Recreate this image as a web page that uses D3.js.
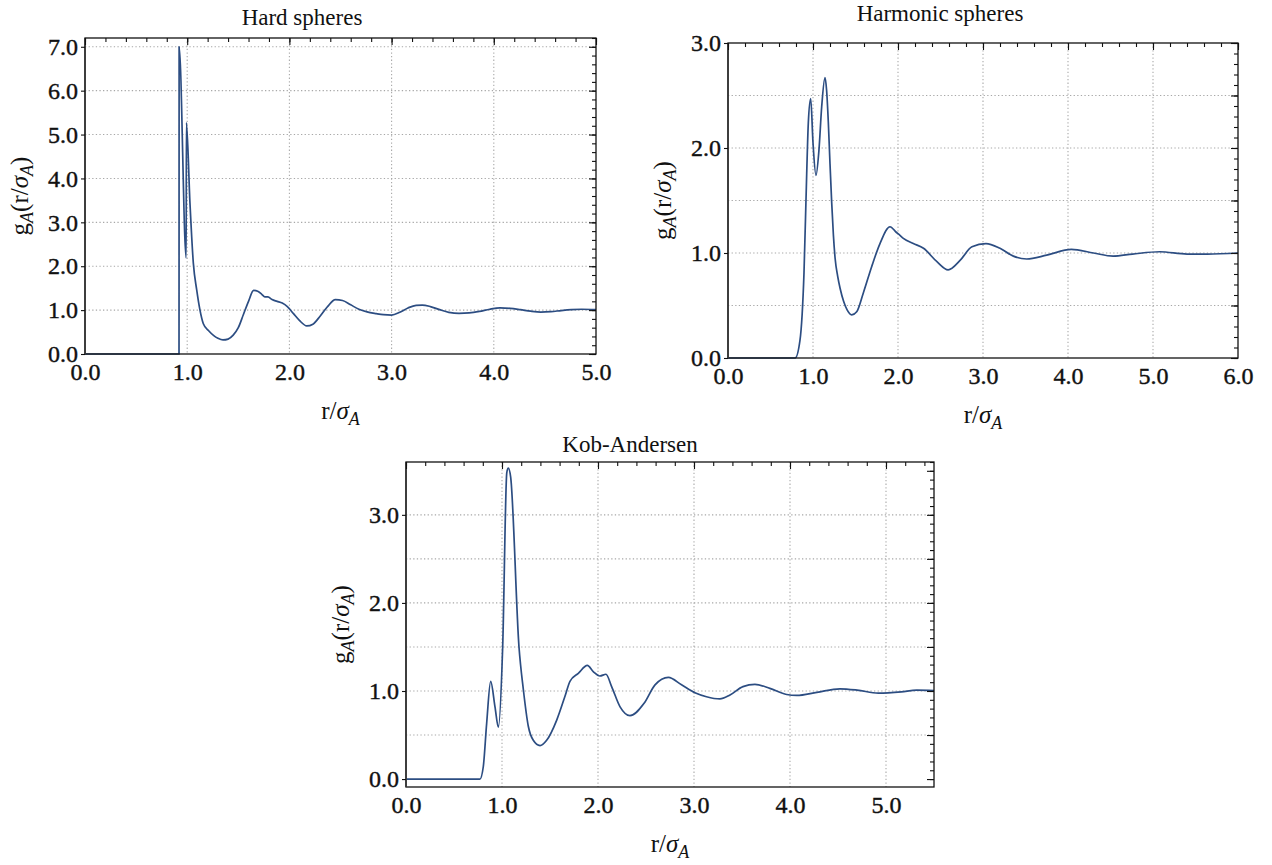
<!DOCTYPE html>
<html>
<head>
<meta charset="utf-8">
<script src="https://cdn.jsdelivr.net/npm/d3@7"></script>
<style>
  html, body { margin: 0; padding: 0; background: #fff; }
  svg { display: block; }
</style>
</head>
<body>
<svg id="fig" width="1272" height="865"></svg>
<script>
// Radial distribution functions g_A(r/σ_A) for three model glass formers.

// Hard spheres
const hsR = [0, 0.920, 0.921, 0.990, 0.992, 1.027, 1.060, 1.093, 1.125, 1.158, 1.21, 1.26, 1.30, 1.35,
  1.40, 1.45, 1.50, 1.55, 1.60, 1.65, 1.69, 1.73, 1.76, 1.79, 1.83, 1.88, 1.93, 1.98, 2.04, 2.10,
  2.17, 2.23, 2.30, 2.37, 2.45, 2.52, 2.60, 2.68, 2.76, 2.85, 2.92, 3.00, 3.08, 3.16, 3.24, 3.30,
  3.38, 3.47, 3.56, 3.66, 3.76, 3.86, 3.96, 4.06, 4.16, 4.26, 4.36, 4.46, 4.56, 4.66, 4.76, 4.86, 5.00];
const hsG = [0, 0, 7.00, 2.19, 5.27, 3.44, 2.07, 1.46, 1.00, 0.69, 0.53, 0.42, 0.36, 0.32,
  0.34, 0.43, 0.60, 0.90, 1.20, 1.45, 1.43, 1.36, 1.30, 1.30, 1.24, 1.20, 1.16, 1.08, 0.92, 0.76,
  0.64, 0.68, 0.86, 1.07, 1.24, 1.22, 1.12, 1.02, 0.96, 0.92, 0.895, 0.885, 0.95, 1.05, 1.11, 1.115,
  1.08, 1.01, 0.95, 0.925, 0.935, 0.97, 1.02, 1.05, 1.04, 1.01, 0.975, 0.955, 0.965, 0.99, 1.01, 1.02, 1.01];

// Harmonic spheres
const harmR = [0, 0.79, 0.847, 0.894, 0.926, 0.945, 0.973, 1.00, 1.035, 1.07, 1.102, 1.141, 1.16, 1.18,
  1.20, 1.22, 1.24, 1.26, 1.29, 1.32, 1.36, 1.40, 1.455, 1.514, 1.592, 1.69, 1.788, 1.906, 1.976,
  2.02, 2.063, 2.18, 2.30, 2.455, 2.59, 2.73, 2.87, 3.035, 3.20, 3.357, 3.514, 3.75, 4.04, 4.30,
  4.53, 4.76, 5.08, 5.40, 5.64, 6.00];
const harmG = [0, 0, 0.17, 0.81, 1.76, 2.24, 2.47, 2.05, 1.74, 1.98, 2.39, 2.67, 2.55, 2.25,
  1.85, 1.48, 1.17, 0.95, 0.78, 0.66, 0.54, 0.46, 0.41, 0.44, 0.62, 0.87, 1.09, 1.25, 1.20,
  1.17, 1.14, 1.09, 1.045, 0.92, 0.84, 0.93, 1.06, 1.09, 1.045, 0.97, 0.943, 0.98, 1.035, 1.00,
  0.97, 0.99, 1.012, 0.99, 0.99, 1.00];

// Kob-Andersen
const kaR = [0, 0.77, 0.805, 0.84, 0.882, 0.927, 0.962, 1.007, 1.05, 1.066, 1.09, 1.177, 1.222, 1.274,
  1.326, 1.396, 1.465, 1.57, 1.656, 1.708, 1.795, 1.889, 1.95, 2.02, 2.083, 2.142, 2.23, 2.333,
  2.48, 2.594, 2.733, 2.87, 3.01, 3.13, 3.27, 3.375, 3.51, 3.635, 3.79, 3.965, 4.07, 4.28, 4.52,
  4.70, 4.92, 5.16, 5.32, 5.50];
const kaG = [0, 0, 0.14, 0.63, 1.11, 0.82, 0.59, 1.50, 3.48, 3.53, 3.43, 1.50, 1.02, 0.60,
  0.44, 0.38, 0.44, 0.67, 0.94, 1.11, 1.20, 1.29, 1.22, 1.17, 1.19, 1.05, 0.82, 0.72,
  0.86, 1.07, 1.155, 1.07, 0.98, 0.935, 0.91, 0.955, 1.05, 1.075, 1.03, 0.96, 0.95, 0.985, 1.025,
  1.01, 0.975, 0.99, 1.01, 1.005];

// Tick labels
const hsXTicks = [0, 1, 2, 3, 4, 5];
const hsYTicks = [0, 1, 2, 3, 4, 5, 6, 7];
const harmXTicks = [0, 1, 2, 3, 4, 5, 6];
const harmYTicks = [0, 1, 2, 3];
const kaXTicks = [0, 1, 2, 3, 4, 5];
const kaYTicks = [0, 1, 2, 3];

const titles = ["Hard spheres", "Harmonic spheres", "Kob-Andersen"];

const FONT = "Liberation Serif, DejaVu Serif, Noto Serif, serif";
const LINE_COLOR = "#2c4d82";

const svg = d3.select("#fig");

const panels = [
  { title: titles[0], r: hsR, g: hsG, xTicks: hsXTicks, yTicks: hsYTicks,
    xDomain: [0, 5], yDomain: [0, 7.2], yGridStep: 1, yGridMax: 7, yMinorStep: 0.2, yMajorStep: 1,
    box: { left: 85, right: 596, top: 38, bottom: 354 }, titlePos: [302, 25] },
  { title: titles[1], r: harmR, g: harmG, xTicks: harmXTicks, yTicks: harmYTicks,
    xDomain: [0, 6], yDomain: [0, 3], yGridStep: 0.5, yGridMax: 2.5, yMinorStep: 0.1, yMajorStep: 0.5,
    box: { left: 728, right: 1238, top: 43, bottom: 358 }, titlePos: [940, 21] },
  { title: titles[2], r: kaR, g: kaG, xTicks: kaXTicks, yTicks: kaYTicks,
    xDomain: [0, 5.5], yDomain: [-0.09, 3.6], yGridStep: 0.5, yGridMax: 3.0, yMinorStep: 0.1, yMajorStep: 0.5,
    box: { left: 406, right: 934, top: 462, bottom: 787 }, titlePos: [630, 452] }
];

function range(start, stop, step) {
  const out = [];
  const n = Math.floor((stop - start) / step + 1e-6);
  for (let i = 0; i <= n; i++) out.push(+(start + i * step).toFixed(4));
  return out;
}

panels.forEach(p => {
  const b = p.box;
  const x = d3.scaleLinear().domain(p.xDomain).range([b.left, b.right]);
  const y = d3.scaleLinear().domain(p.yDomain).range([b.bottom, b.top]);
  const g = svg.append("g");

  // dotted grid
  const gridX = p.xTicks.filter(v => v > p.xDomain[0] && v < p.xDomain[1]);
  const gridY = range(p.yGridStep, p.yGridMax, p.yGridStep);
  const grid = g.append("g")
    .attr("stroke", "#a8a8a8").attr("stroke-width", 1.1)
    .attr("stroke-dasharray", "1.3,2.3").attr("fill", "none");
  grid.selectAll(".gx").data(gridX).join("line")
    .attr("x1", d => x(d)).attr("x2", d => x(d))
    .attr("y1", b.top).attr("y2", b.bottom);
  grid.selectAll(".gy").data(gridY).join("line")
    .attr("x1", b.left).attr("x2", b.right)
    .attr("y1", d => y(d)).attr("y2", d => y(d));

  // curve
  const line = d3.line()
    .x((d, i) => x(p.r[i]))
    .y(d => y(d))
    .curve(d3.curveMonotoneX);
  g.append("path")
    .datum(p.g)
    .attr("d", line)
    .attr("fill", "none")
    .attr("stroke", LINE_COLOR)
    .attr("stroke-width", 1.7)
    .attr("stroke-linejoin", "round");

  // frame
  g.append("rect")
    .attr("x", b.left).attr("y", b.top)
    .attr("width", b.right - b.left).attr("height", b.bottom - b.top)
    .attr("fill", "none").attr("stroke", "#111").attr("stroke-width", 1.3);
  g.append("line")
    .attr("x1", b.left).attr("x2", b.left).attr("y1", b.top).attr("y2", b.bottom)
    .attr("stroke", "#3a3a3a").attr("stroke-width", 1.8);

  // top axis: inward ticks, minor every 0.2
  const xMinor = range(p.xDomain[0], p.xDomain[1], 0.2);
  const topMinor = g.append("g").attr("transform", `translate(0,${b.top})`)
    .call(d3.axisTop(x).tickValues(xMinor).tickSize(-4).tickFormat(""));
  const topMajor = g.append("g").attr("transform", `translate(0,${b.top})`)
    .call(d3.axisTop(x).tickValues(p.xTicks).tickSize(-7).tickFormat(""));

  // right axis: inward ticks
  const yMinor = range(Math.ceil(p.yDomain[0] / p.yMinorStep) * p.yMinorStep, p.yDomain[1], p.yMinorStep)
    .filter(v => v >= p.yDomain[0] && v <= p.yDomain[1]);
  const yMajor = range(Math.ceil(p.yDomain[0] / p.yMajorStep) * p.yMajorStep, p.yDomain[1], p.yMajorStep)
    .filter(v => v >= p.yDomain[0] && v <= p.yDomain[1]);
  const rightMinor = g.append("g").attr("transform", `translate(${b.right},0)`)
    .call(d3.axisRight(y).tickValues(yMinor).tickSize(-4).tickFormat(""));
  const rightMajor = g.append("g").attr("transform", `translate(${b.right},0)`)
    .call(d3.axisRight(y).tickValues(yMajor).tickSize(-7).tickFormat(""));

  // left axis: outward ticks with labels
  const left = g.append("g").attr("transform", `translate(${b.left},0)`)
    .call(d3.axisLeft(y).tickValues(p.yTicks).tickSize(4).tickPadding(3).tickFormat(d3.format(".1f")));

  // bottom axis: labels only
  const bottom = g.append("g").attr("transform", `translate(0,${b.bottom})`)
    .call(d3.axisBottom(x).tickValues(p.xTicks).tickSize(0).tickPadding(9).tickFormat(d3.format(".1f")));

  [topMinor, topMajor, rightMinor, rightMajor, left, bottom].forEach(a => {
    a.select(".domain").remove();
    a.selectAll(".tick line").attr("stroke", "#111").attr("stroke-width", 1.1);
  });
  [left, bottom].forEach(a => {
    a.selectAll(".tick text")
      .style("font-family", FONT).style("font-size", "24px")
      .attr("fill", "#111").attr("stroke", "#111").attr("stroke-width", 0.4);
  });

  // title
  g.append("text")
    .attr("x", p.titlePos[0]).attr("y", p.titlePos[1])
    .attr("text-anchor", "middle")
    .style("font-family", FONT).style("font-size", "23px").attr("fill", "#111")
    .text(p.title);

  // x label: r/σ_A
  const xl = g.append("text")
    .attr("x", (b.left + b.right) / 2).attr("y", b.bottom + 65)
    .attr("text-anchor", "middle")
    .style("font-family", FONT).style("font-size", "25px").attr("fill", "#111");
  xl.append("tspan").text("r/");
  xl.append("tspan").attr("font-style", "italic").text("σ");
  xl.append("tspan").attr("font-style", "italic").style("font-size", "18px").attr("dy", 6).text("A");

  // y label: g_A(r/σ_A)
  const yl = g.append("text")
    .attr("transform", `translate(${b.left - 57},${(b.top + b.bottom) / 2}) rotate(-90)`)
    .attr("text-anchor", "middle")
    .style("font-family", FONT).style("font-size", "25px").attr("fill", "#111");
  yl.append("tspan").text("g");
  yl.append("tspan").attr("font-style", "italic").style("font-size", "18px").attr("dy", 5).text("A");
  yl.append("tspan").attr("dy", -5).text("(r/");
  yl.append("tspan").attr("font-style", "italic").text("σ");
  yl.append("tspan").attr("font-style", "italic").style("font-size", "18px").attr("dy", 5).text("A");
  yl.append("tspan").attr("dy", -5).text(")");
});
</script>
</body>
</html>
